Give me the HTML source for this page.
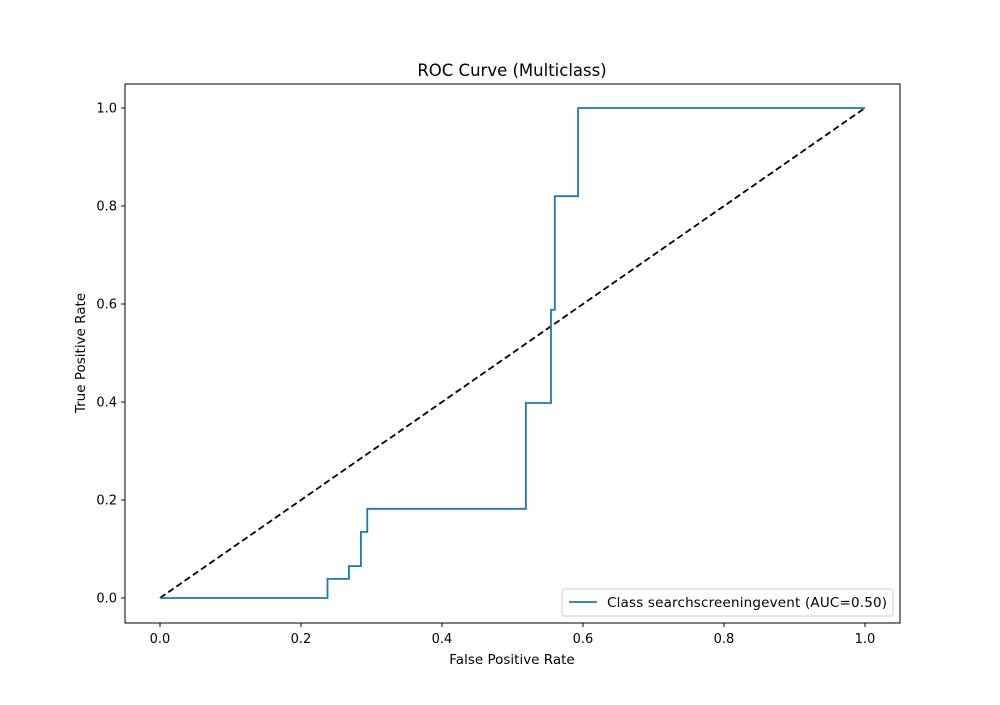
<!DOCTYPE html>
<html><head><meta charset="utf-8"><style>
body{margin:0;background:#fff}
svg text{font-family:"DejaVu Sans","Liberation Sans",sans-serif;fill:#000}
</style></head><body>
<svg id="chart" width="1000" height="700">
<rect x="0" y="0" width="1000" height="700" fill="#fff"/>
<text x="512" y="76" font-size="16.5" text-anchor="middle">ROC Curve (Multiclass)</text>
<g id="xt"></g>
<g id="yt"></g>
<line x1="160" y1="598" x2="865" y2="108" stroke="#000" stroke-width="1.8" stroke-dasharray="6.5,3.5"/>
<path id="roc" fill="none" stroke="#1f77b4" stroke-width="1.8"/>
<rect x="125" y="84" width="775" height="539" fill="none" stroke="#000" stroke-width="1"/>
<text x="512" y="664" font-size="13.5" text-anchor="middle">False Positive Rate</text>
<text x="85" y="353" font-size="13.5" text-anchor="middle" transform="rotate(-90 85 353)">True Positive Rate</text>
<g>
<rect x="562" y="589" width="331" height="27" rx="3" fill="#fff" stroke="#ccc"/>
<line x1="569" y1="602" x2="597" y2="602" stroke="#1f77b4" stroke-width="1.8"/>
<text x="607" y="607" font-size="13.5" textLength="280">Class searchscreeningevent (AUC=0.50)</text>
</g>
</svg>
<script>
const fpr=[0,0.2376,0.2376,0.268,0.268,0.285,0.285,0.294,0.294,0.519,0.519,0.5546,0.5546,0.560,0.560,0.593,0.593,1];
const tpr=[0,0,0.039,0.039,0.065,0.065,0.135,0.135,0.182,0.182,0.398,0.398,0.588,0.588,0.820,0.820,1,1];
const xTicks=["0.0","0.2","0.4","0.6","0.8","1.0"];
const yTicks=["0.0","0.2","0.4","0.6","0.8","1.0"];
const X=v=>160+v*705, Y=v=>598-v*490;
const ns="http://www.w3.org/2000/svg";
document.getElementById('roc').setAttribute('d',fpr.map((f,i)=>(i?'L':'M')+X(f)+','+Y(tpr[i])).join(''));
const xt=document.getElementById('xt'),yt=document.getElementById('yt');
xTicks.forEach(t=>{const x=X(parseFloat(t));
const l=document.createElementNS(ns,'line');l.setAttribute('x1',x);l.setAttribute('x2',x);l.setAttribute('y1',623);l.setAttribute('y2',627);l.setAttribute('stroke','#000');


xt.appendChild(l);
const s=document.createElementNS(ns,'text');s.setAttribute('x',x);s.setAttribute('y',643);s.setAttribute('font-size','13');s.setAttribute('text-anchor','middle');s.textContent=t;


xt.appendChild(s);});
yTicks.forEach(t=>{const y=Y(parseFloat(t));
const l=document.createElementNS(ns,'line');l.setAttribute('x1',121);l.setAttribute('x2',125);l.setAttribute('y1',y);l.setAttribute('y2',y);l.setAttribute('stroke','#000');


yt.appendChild(l);
const s=document.createElementNS(ns,'text');s.setAttribute('x',117);s.setAttribute('y',y+4.5);s.setAttribute('font-size','13');s.setAttribute('text-anchor','end');s.textContent=t;


yt.appendChild(s);});
</script>
</body></html>
